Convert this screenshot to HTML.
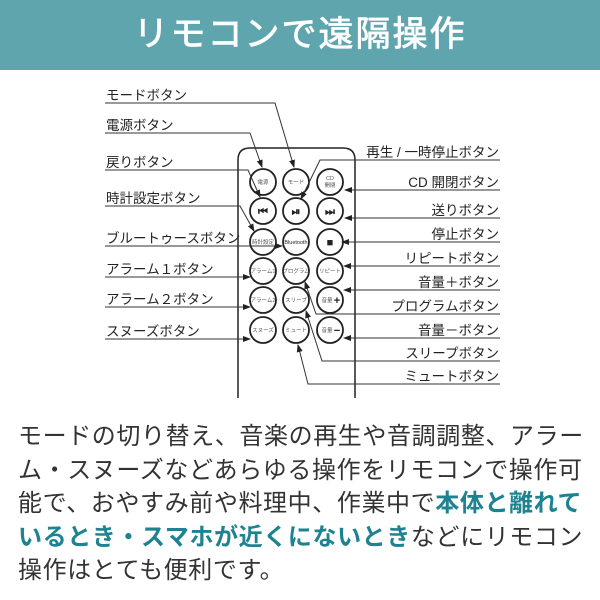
<!DOCTYPE html>
<html><head><meta charset="utf-8"><style>
html,body{margin:0;padding:0;background:#fff;}
body{width:600px;height:600px;overflow:hidden;position:relative;font-family:"Liberation Sans","Noto Sans CJK JP",sans-serif;}
.hd{position:absolute;left:0;top:0;width:600px;height:70px;background:#5fa5ae;color:#fff;font-size:35px;font-weight:normal;-webkit-text-stroke:0.8px #fff;text-align:center;line-height:70px;letter-spacing:2px;}
.tx{position:absolute;left:18px;top:420px;width:580px;font-size:24px;line-height:33.5px;color:#333;letter-spacing:0.6px;white-space:nowrap;}
.tx b{color:#1e8390;}
svg{position:absolute;left:0;top:0;}
</style></head><body>
<div class="hd">リモコンで遠隔操作</div>
<svg width="600" height="410" viewBox="0 0 600 410" font-family="Liberation Sans, Noto Sans CJK JP, sans-serif">
<defs><marker id="a" markerWidth="8" markerHeight="8" refX="7" refY="4" orient="auto" markerUnits="userSpaceOnUse"><path d="M0,1 L8,4 L0,7z" fill="#222"/></marker></defs>
<path d="M238,398 V160 Q238,148 250,148 H343 Q355,148 355,160 V398" fill="none" stroke="#222" stroke-width="1.5"/>
<g fill="#fff" stroke="#222" stroke-width="1.8">
<circle cx="263" cy="182" r="13"/><circle cx="296" cy="182" r="13"/><circle cx="330" cy="182" r="13"/>
<circle cx="263" cy="211" r="13"/><circle cx="296" cy="211" r="13"/><circle cx="330" cy="211" r="13"/>
<circle cx="263" cy="242" r="13"/><circle cx="296" cy="242" r="13"/><circle cx="330" cy="242" r="13"/>
<circle cx="263" cy="271" r="13"/><circle cx="296" cy="271" r="13"/><circle cx="330" cy="271" r="13"/>
<circle cx="263" cy="300" r="13"/><circle cx="296" cy="300" r="13"/><circle cx="330" cy="300" r="13"/>
<circle cx="263" cy="330" r="13"/><circle cx="296" cy="330" r="13"/><circle cx="330" cy="330" r="13"/>
</g>
<g font-size="5.5" fill="#555" text-anchor="middle">
<text x="263" y="184">電源</text><text x="296" y="184">モード</text><text x="330" y="180">CD</text><text x="330" y="187">開閉</text>
<text x="263" y="244">時計設定</text><text x="296" y="244" fill="#222">Bluetooth</text>
<text x="263" y="273">アラーム1</text><text x="296" y="273">プログラム</text><text x="330" y="273">リピート</text>
<text x="263" y="302">アラーム2</text><text x="296" y="302">スリープ</text><text x="327" y="302">音量</text>
<text x="263" y="332">スヌーズ</text><text x="296" y="332">ミュート</text><text x="327" y="332">音量</text>
</g>
<g font-size="11" font-weight="bold" fill="#222" text-anchor="middle">
<text x="263" y="215">⏮</text><text x="296" y="215">⏯</text><text x="330" y="215">⏭</text><text x="330" y="246">■</text>
<text x="337" y="304">+</text><text x="337" y="334">−</text>
</g>
<g fill="none" stroke="#333" stroke-width="1" marker-end="url(#a)">
<path d="M105,103 H275 L294,167"/>
<path d="M105,133 H250 L262,167"/>
<path d="M105,170 H248 L260,197"/>
<path d="M105,206 H240 L254,231"/>
<path d="M105,246 H282"/>
<path d="M105,277 H250"/>
<path d="M105,307 H250"/>
<path d="M105,339 H250"/>
<path d="M500,160 H320 L301,199"/>
<path d="M500,190 H345"/>
<path d="M500,218 H345"/>
<path d="M500,242 H342"/>
<path d="M500,266 H344"/>
<path d="M500,290 H344"/>
<path d="M500,314 H316 L305,282"/>
<path d="M500,338 H344"/>
<path d="M500,361 H322 L306,311"/>
<path d="M500,384 H308 L298,345"/>
</g>
<g font-size="13.5" fill="#222">
<text x="106" y="100">モードボタン</text>
<text x="106" y="130">電源ボタン</text>
<text x="106" y="167">戻りボタン</text>
<text x="106" y="203">時計設定ボタン</text>
<text x="106" y="243">ブルートゥースボタン</text>
<text x="106" y="274">アラーム１ボタン</text>
<text x="106" y="304">アラーム２ボタン</text>
<text x="106" y="336">スヌーズボタン</text>
</g>
<g font-size="13.5" fill="#222" text-anchor="end">
<text x="499" y="157">再生 / 一時停止ボタン</text>
<text x="499" y="187">CD 開閉ボタン</text>
<text x="499" y="215">送りボタン</text>
<text x="499" y="239">停止ボタン</text>
<text x="499" y="263">リピートボタン</text>
<text x="499" y="287">音量＋ボタン</text>
<text x="499" y="311">プログラムボタン</text>
<text x="499" y="335">音量－ボタン</text>
<text x="499" y="358">スリープボタン</text>
<text x="499" y="381">ミュートボタン</text>
</g>
</svg>
<div class="tx">モードの切り替え、音楽の再生や音調調整、アラー<br>ム・スヌーズなどあらゆる操作をリモコンで操作可<br>能で、おやすみ前や料理中、作業中で<b>本体と離れて</b><br><b>いるとき・スマホが近くにないとき</b>などにリモコン<br>操作はとても便利です。</div>
</body></html>
